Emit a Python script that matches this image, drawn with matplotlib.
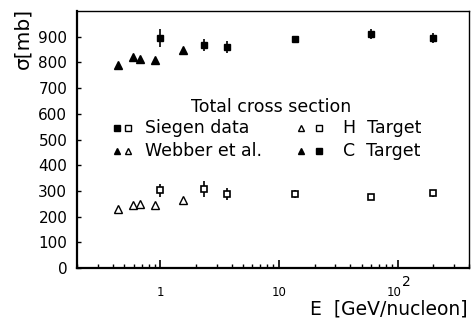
import numpy as np
import matplotlib.pyplot as plt
import matplotlib.ticker as mtick

# Webber et al. (triangles)
webber_E = [0.44, 0.59, 0.68, 0.91, 1.56]
webber_C = [790, 820, 815, 810, 850]
webber_H = [230, 245, 250, 245, 265]

# Siegen data (squares) with errors
siegen_E = [1.0, 2.35, 3.65, 13.6, 60, 200]
siegen_C = [895, 868, 860, 893, 910, 895]
siegen_C_err = [35, 25, 25, 10, 20, 20]
siegen_H = [303, 307, 288, 288, 277, 290]
siegen_H_err = [25, 30, 25, 15, 10, 15]

xticks = [1, 10, 100]
xticklabels = ['1', '10', '']

plt.rcParams['font.family'] = 'DejaVu Sans'

fig = plt.figure(figsize=(4.71, 3.22), dpi=100)
ax = fig.add_axes([0.1635, 0.1677, 0.8323, 0.7981])

ax.plot(webber_E, webber_C, '^', color='black', ms=5.5)
ax.plot(webber_E, webber_H, '^', mfc='white', mec='black', mew=1, ms=5.5)
ax.errorbar(siegen_E, siegen_C, yerr=siegen_C_err, fmt='s', color='black',
            ms=5, elinewidth=1.2, capsize=0)
ax.errorbar(siegen_E, siegen_H, yerr=siegen_H_err, fmt='s', mfc='white',
            mec='black', ecolor='black', mew=1.2, ms=5, elinewidth=1.2, capsize=0)

ax.set_xscale('log')
ax.set_xlim(0.2, 400)
ax.set_ylim(0, 1000)
ax.set_yticks(np.arange(0, 1000, 100))
ax.set_xticks(xticks)
ax.set_xticklabels(xticklabels)
for lab in ax.get_xticklabels():
    lab.set_verticalalignment('baseline')
ax.xaxis.set_minor_locator(mtick.LogLocator(base=10, subs=np.arange(2, 10)))
ax.xaxis.set_minor_formatter(mtick.NullFormatter())
ax.tick_params(axis='x', which='major', direction='in', length=6, width=1.2, labelsize=8.5, pad=20)
ax.tick_params(axis='x', which='minor', direction='in', length=3, width=1)
ax.tick_params(axis='y', which='major', direction='in', length=3, width=1, labelsize=11, pad=7)

# the 10^2 label, with a full-size exponent as in the original
ax.annotate('10', xy=(100, 0), xycoords=('data', 'axes fraction'), xytext=(3, -20),
            textcoords='offset points', ha='right', va='baseline', fontsize=8.5)
ax.annotate('2', xy=(100, 0), xycoords=('data', 'axes fraction'), xytext=(3.5, -13),
            textcoords='offset points', ha='left', va='baseline', fontsize=10)

for s in ['left', 'bottom']:
    ax.spines[s].set_linewidth(1.6)
for s in ['top', 'right']:
    ax.spines[s].set_linewidth(1.0)

fig.text(0.048, 0.975, '\u03c3[mb]', rotation=90, ha='center', va='top', fontsize=14.5)
fig.text(0.993, 0.024, 'E  [GeV/nucleon]', ha='right', va='baseline', fontsize=13.5)

# legend drawn as text with markers
fs = 12.5
ax.text(8.6, 628, 'Total cross section', ha='center', va='center', fontsize=fs)
ax.plot([0.435], [543], 's', color='black', ms=5)
ax.plot([0.54], [543], 's', mfc='white', mec='black', ms=5)
ax.text(0.75, 543, 'Siegen data', ha='left', va='center', fontsize=fs)
ax.plot([0.435], [457], '^', color='black', ms=5)
ax.plot([0.54], [457], '^', mfc='white', mec='black', ms=5)
ax.text(0.75, 457, 'Webber et al.', ha='left', va='center', fontsize=fs)
ax.plot([15.3], [543], '^', mfc='white', mec='black', ms=4.5)
ax.plot([21.7], [543], 's', mfc='white', mec='black', ms=4.5)
ax.text(35, 543, 'H  Target', ha='left', va='center', fontsize=fs)
ax.plot([15.3], [457], '^', color='black', ms=4.5)
ax.plot([21.7], [457], 's', color='black', ms=4.5)
ax.text(35, 457, 'C  Target', ha='left', va='center', fontsize=fs)

fig.savefig('out.png', dpi=100)
